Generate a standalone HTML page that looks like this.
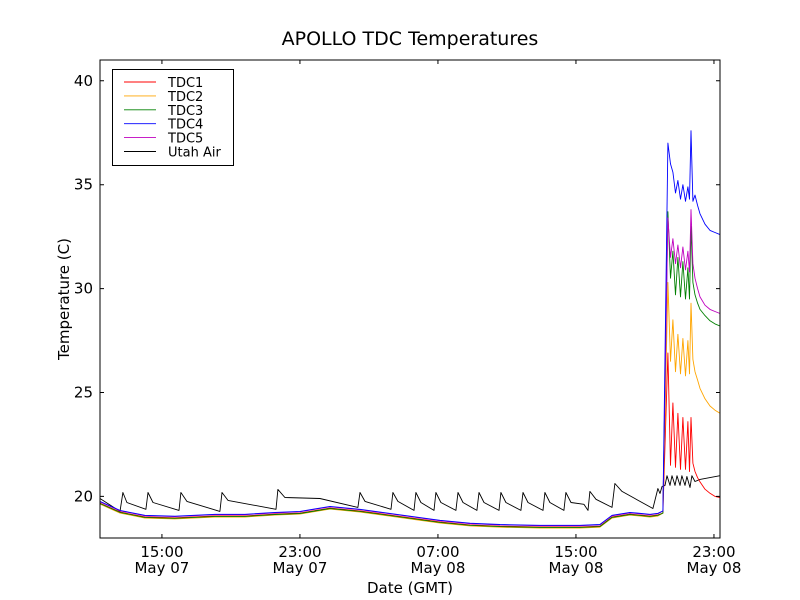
<!DOCTYPE html>
<html><head><meta charset="utf-8"><style>
body{margin:0;background:#fff;}
svg{display:block;font-family:"DejaVu Sans","Liberation Sans",sans-serif;}
</style></head><body>
<svg id="chart" width="800" height="600" xmlns="http://www.w3.org/2000/svg">
<rect width="800" height="600" fill="#fff"/>
<text x="410" y="45" font-size="19" text-anchor="middle">APOLLO TDC Temperatures</text>
<g id="plot"></g>
<rect x="100" y="60" width="620" height="478" fill="none" stroke="#000" stroke-width="1"/>
<g id="axes"></g>
<text x="410" y="593" font-size="15" text-anchor="middle">Date (GMT)</text>
<text transform="translate(69,299) rotate(-90)" font-size="15" text-anchor="middle">Temperature (C)</text>
<g>
<rect x="112.5" y="69.5" width="121" height="96" fill="#fff" stroke="#000" stroke-width="1"/>
<g id="legend"></g>
</g>
</svg>
<script>
const yTicks=[20,25,30,35,40];
const xTickHours=[15,23,31,39,47];
const xTickTimes=["15:00","23:00","07:00","15:00","23:00"];
const xTickDates=["May 07","May 07","May 08","May 08","May 08"];
const baseT=[11.41,12.57,14.01,15.75,18.07,19.81,21.55,23.0,24.74,26.48,29.38,31.12,32.86,34.59,36.91,39.23,40.39,41.09,42.13,43.29,43.75];
const spikeT=[44.04,44.33,44.48,44.62,44.77,44.91,45.06,45.20,45.35,45.49,45.58,45.67,45.78,45.90,46.05,46.19,46.48,46.77,47.06,47.35];
const tdc1Base=[19.68,19.25,19.01,18.97,19.06,19.06,19.15,19.20,19.44,19.30,18.97,18.77,18.63,18.57,18.53,18.53,18.57,19.01,19.15,19.06,19.11];
const tdc2Base=[19.63,19.20,18.96,18.92,19.01,19.01,19.10,19.15,19.39,19.25,18.92,18.72,18.58,18.52,18.48,18.48,18.52,18.96,19.10,19.01,19.06];
const tdc3Base=[19.66,19.23,18.99,18.95,19.04,19.04,19.13,19.18,19.42,19.28,18.95,18.75,18.61,18.55,18.51,18.51,18.55,18.99,19.13,19.04,19.09];
const tdc4Base=[19.76,19.33,19.09,19.05,19.14,19.14,19.23,19.28,19.52,19.38,19.05,18.85,18.71,18.65,18.61,18.61,18.65,19.09,19.23,19.14,19.19];
const tdc5Base=[19.74,19.31,19.07,19.03,19.12,19.12,19.21,19.26,19.50,19.36,19.03,18.83,18.69,18.63,18.59,18.59,18.63,19.07,19.21,19.12,19.17];
const tdc1Spike=[19.2,26.9,21.5,24.5,21.4,24.0,21.3,23.8,21.3,23.6,21.2,23.8,21.6,21.2,20.9,20.7,20.35,20.15,20.0,19.95];
const tdc2Spike=[19.2,30.3,26.5,28.5,26.0,27.8,25.9,27.6,25.8,27.5,25.9,29.3,26.6,26.0,25.6,25.2,24.7,24.35,24.15,24.0];
const tdc3Spike=[19.2,33.7,30.5,31.8,29.7,31.5,29.6,31.3,29.5,31.0,29.5,33.0,30.3,29.7,29.3,29.0,28.7,28.45,28.3,28.2];
const tdc4Spike=[19.3,37.0,36.0,35.6,34.6,35.2,34.3,35.0,34.2,34.9,34.3,37.6,34.2,34.5,34.0,33.6,33.1,32.8,32.7,32.6];
const tdc5Spike=[19.3,33.4,31.5,32.4,31.2,32.1,31.0,32.0,30.9,31.8,30.8,33.8,31.2,30.5,30.0,29.6,29.2,29.0,28.9,28.8];
const airT=[11.41,12.57,12.74,12.97,14.07,14.19,14.48,15.99,16.10,16.45,18.36,18.48,18.83,21.61,21.72,22.13,24.16,26.36,26.48,26.77,28.28,28.39,28.68,29.61,29.72,30.01,30.77,30.88,31.17,32.04,32.16,32.45,33.26,33.38,33.67,34.54,34.65,34.94,35.81,35.93,36.22,37.09,37.20,37.49,38.30,38.42,38.71,39.46,39.70,39.81,40.16,41.09,41.26,41.67,43.46,43.75,43.87,43.99,44.16,44.28,44.45,44.57,44.74,44.86,45.03,45.14,45.32,45.43,45.61,45.72,45.90,46.19,47.35];
const airV=[19.90,19.28,20.19,19.71,19.38,20.19,19.71,19.33,20.19,19.76,19.28,20.19,19.81,19.38,20.34,19.95,19.90,19.47,20.19,19.76,19.38,20.19,19.76,19.33,20.19,19.71,19.33,20.19,19.71,19.33,20.19,19.71,19.33,20.19,19.71,19.33,20.19,19.71,19.33,20.19,19.71,19.33,20.19,19.71,19.33,20.19,19.71,19.62,19.33,20.24,19.86,19.47,20.62,20.24,19.42,20.38,20.14,20.48,20.53,21.0,20.53,21.0,20.53,21.0,20.53,21.0,20.53,20.96,20.43,21.0,20.72,20.82,21.0];
const seriesNames=["TDC1","TDC2","TDC3","TDC4","TDC5","Utah Air"];
const seriesColors=["#ff0000","#ffa500","#008000","#0000ff","#bf00bf","#000000"];

const X0=100,X1=720,Y0=538,Y1=60,TMIN=11.41,TMAX=47.35,VMIN=18,VMAX=41;
const xs=t=>X0+(t-TMIN)/(TMAX-TMIN)*(X1-X0);
const ys=v=>Y0-(v-VMIN)/(VMAX-VMIN)*(Y0-Y1);
const NS="http://www.w3.org/2000/svg";
const plot=document.getElementById('plot'),axes=document.getElementById('axes'),legend=document.getElementById('legend');
function mk(tag,parent){const e=document.createElementNS(NS,tag);parent.appendChild(e);return e;}
const series=[
 [baseT.concat(spikeT),tdc1Base.concat(tdc1Spike)],
 [baseT.concat(spikeT),tdc2Base.concat(tdc2Spike)],
 [baseT.concat(spikeT),tdc3Base.concat(tdc3Spike)],
 [baseT.concat(spikeT),tdc4Base.concat(tdc4Spike)],
 [baseT.concat(spikeT),tdc5Base.concat(tdc5Spike)],
 [airT,airV]];
const order=[5,0,1,2,4,3];
order.forEach(i=>{
 const [T,V]=series[i];
 const p=mk('polyline',plot);
 p.setAttribute('points',T.map((t,k)=>xs(t).toFixed(1)+','+ys(V[k]).toFixed(1)).join(' '));
 p.setAttribute('fill','none');p.setAttribute('stroke',seriesColors[i]);p.setAttribute('stroke-width','0.9');p.setAttribute('stroke-linejoin','round');
 
 
});
yTicks.forEach(v=>{
 const y=ys(v);
 const l=mk('path',axes);l.setAttribute('d',`M100 ${y}h4M720 ${y}h-4`);l.setAttribute('stroke','#000');
 
 
 const t=mk('text',axes);t.setAttribute('x',93);t.setAttribute('y',y+5);t.setAttribute('font-size','15');t.setAttribute('text-anchor','end');t.textContent=v;
 
 
});
xTickHours.forEach((h,i)=>{
 const x=xs(h);
 const l=mk('path',axes);l.setAttribute('d',`M${x} 538v-4M${x} 60v4`);l.setAttribute('stroke','#000');
 
 
 const t=mk('text',axes);t.setAttribute('x',x);t.setAttribute('y',557);t.setAttribute('font-size','15');t.setAttribute('text-anchor','middle');t.textContent=xTickTimes[i];
 
 
 const d=mk('text',axes);d.setAttribute('x',x);d.setAttribute('y',573);d.setAttribute('font-size','15');d.setAttribute('text-anchor','middle');d.textContent=xTickDates[i];
 
 
});
seriesNames.forEach((n,i)=>{
 const y=82+i*13.9;
 const l=mk('line',legend);l.setAttribute('x1',124);l.setAttribute('x2',156);l.setAttribute('y1',y);l.setAttribute('y2',y);l.setAttribute('stroke',seriesColors[i]);l.setAttribute('stroke-width','0.9');
 
 
 const t=mk('text',legend);t.setAttribute('x',168);t.setAttribute('y',y+5);t.setAttribute('font-size','13');t.textContent=n;
 
 
});
</script>
</body></html>
